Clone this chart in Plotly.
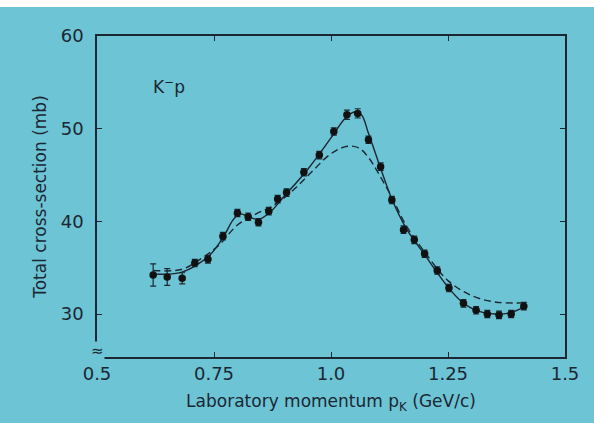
import plotly.graph_objects as go

# Measured data points (lab momentum GeV/c, total cross-section mb)
p_lab = [0.62, 0.65, 0.682, 0.709, 0.737, 0.769, 0.80, 0.823, 0.845, 0.867, 0.886,
         0.905, 0.942, 0.975, 1.006, 1.034, 1.057, 1.08, 1.106, 1.13, 1.155, 1.178,
         1.20, 1.227, 1.252, 1.283, 1.31, 1.334, 1.359, 1.385, 1.412]
sigma = [34.2, 34.0, 33.85, 35.5, 35.9, 38.4, 40.9, 40.5, 39.9, 41.1, 42.4,
         43.1, 45.3, 47.15, 49.7, 51.5, 51.65, 48.8, 45.9, 42.3, 39.1, 38.0,
         36.5, 34.7, 32.8, 31.15, 30.4, 30.0, 29.9, 30.0, 30.85]
sigma_err = [1.2, 0.9, 0.6, 0.4, 0.4, 0.4, 0.4, 0.4, 0.4, 0.4, 0.4,
             0.4, 0.4, 0.4, 0.4, 0.5, 0.5, 0.4, 0.4, 0.4, 0.4, 0.4,
             0.4, 0.4, 0.4, 0.4, 0.4, 0.4, 0.4, 0.4, 0.4]

# Solid curve (fit with resonances)
fit_x = [0.62, 0.65, 0.68, 0.71, 0.74, 0.77, 0.79, 0.805, 0.82, 0.845, 0.87, 0.9,
         0.95, 1.0, 1.03, 1.05, 1.065, 1.08, 1.1, 1.13, 1.16, 1.2, 1.25, 1.28,
         1.31, 1.35, 1.38, 1.41]
fit_y = [34.3, 34.3, 34.5, 35.2, 36.3, 38.3, 40.1, 40.8, 40.6, 40.2, 41.0, 42.7,
         45.6, 49.0, 51.1, 51.8, 51.5, 49.5, 46.6, 42.4, 39.3, 36.4, 32.9, 31.3,
         30.4, 30.0, 30.1, 30.7]

# Dashed curve (background fit)
dash_x = [0.62, 0.68, 0.72, 0.76, 0.80, 0.84, 0.88, 0.92, 0.96, 1.0, 1.035, 1.06,
          1.08, 1.1, 1.13, 1.16, 1.2, 1.25, 1.3, 1.35, 1.41]
dash_y = [34.7, 34.8, 35.9, 37.4, 39.6, 40.8, 41.8, 43.4, 45.4, 47.3, 48.1, 47.9,
          46.9, 45.3, 42.6, 39.6, 36.7, 33.6, 32.0, 31.3, 31.2]

x_ticks = [0.5, 0.75, 1.0, 1.25, 1.5]
x_tick_text = ["0.5", "0.75", "1.0", "1.25", "1.5"]
y_ticks = [30, 40, 50, 60]

BG = "#6dc4d4"
INK = "#1b2733"
FONT = "DejaVu Sans"

fig = go.Figure()
fig.add_trace(go.Scatter(x=dash_x, y=dash_y, mode="lines",
                         line=dict(color=INK, width=1.4, dash="7px,4px", shape="spline"),
                         hoverinfo="skip", showlegend=False))
fig.add_trace(go.Scatter(x=fit_x, y=fit_y, mode="lines",
                         line=dict(color=INK, width=1.4, shape="spline"),
                         hoverinfo="skip", showlegend=False))
fig.add_trace(go.Scatter(x=p_lab, y=sigma, mode="markers",
                         marker=dict(color="#111", size=7.5),
                         error_y=dict(type="data", array=sigma_err, color=INK,
                                      thickness=1.2, width=3),
                         showlegend=False))

fig.add_annotation(x=0.615, y=54.6, xref="x", yref="y", xanchor="left",
                   text="K<sup>−</sup>p", showarrow=False,
                   font=dict(family=FONT, size=17, color=INK))
# axis break symbol
fig.add_annotation(x=0, y=0.018, xref="paper", yref="paper", text="≈",
                   xanchor="center", yanchor="middle",
                   showarrow=False, bgcolor=BG, borderpad=0,
                   font=dict(family=FONT, size=15, color=INK))
# white strip at top of page
fig.add_shape(type="rect", xref="paper", yref="paper", x0=-0.3, x1=1.2,
              y0=1.09, y1=1.2, fillcolor="white", line=dict(width=0), layer="above")

fig.update_layout(
    width=594, height=423,
    margin=dict(l=97, r=29, t=36, b=66),
    paper_bgcolor=BG, plot_bgcolor=BG,
    font=dict(family=FONT, size=17, color=INK),
    xaxis=dict(range=[0.5, 1.5], tickvals=x_ticks, ticktext=x_tick_text,
               ticks="inside", ticklen=5, tickwidth=1.2, tickcolor=INK,
               showline=True, linecolor=INK, linewidth=1.5, mirror="ticks",
               showgrid=False, zeroline=False,
               title=dict(text="Laboratory momentum p<sub>K</sub> (GeV/c)",
                          font=dict(size=17), standoff=12),
               tickfont=dict(size=18)),
    yaxis=dict(range=[25.36, 60], tickvals=y_ticks,
               ticks="inside", ticklen=5, tickwidth=1.2, tickcolor=INK,
               showline=True, linecolor=INK, linewidth=1.5, mirror="ticks",
               showgrid=False, zeroline=False, ticklabelstandoff=8,
               title=dict(text="Total cross-section (mb)", font=dict(size=17),
                          standoff=10),
               tickfont=dict(size=18)),
)

fig.write_html("out.html", config={"displayModeBar": False},
               post_script="document.body.style.margin='0';document.body.style.padding='0';")
